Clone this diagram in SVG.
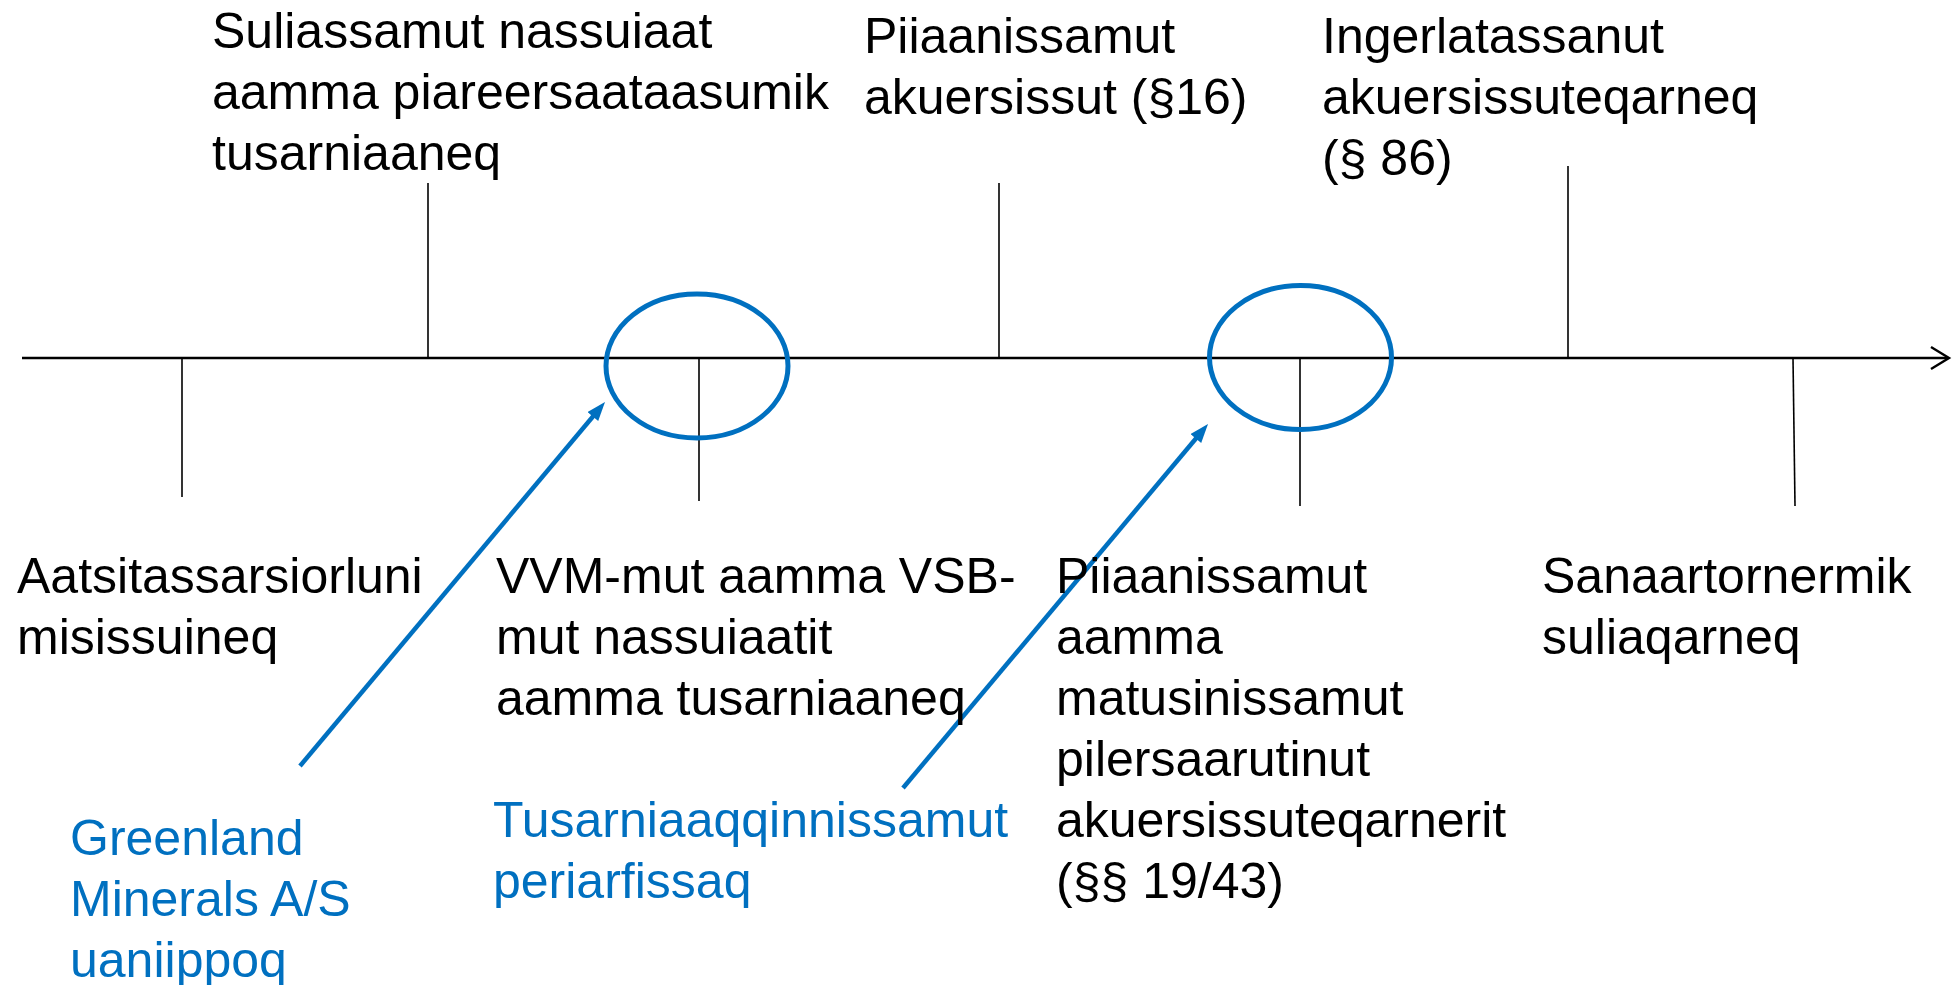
<svg xmlns="http://www.w3.org/2000/svg" width="1955" height="985" viewBox="0 0 1955 985">
<style>
text{font-family:"Liberation Sans",Arial,sans-serif;font-size:50px;fill:#000}
.blue{fill:#0070C0}
.tick{stroke:#000;stroke-width:1.6;fill:none}
.axis{stroke:#000;stroke-width:2.4;fill:none}
.ring{stroke:#0070C0;stroke-width:5;fill:none}
.ptr{stroke:#0070C0;stroke-width:4.5;fill:none}
</style>
<defs>
<marker id="ah" markerUnits="userSpaceOnUse" markerWidth="22" markerHeight="16" refX="9" refY="7" orient="auto">
<path d="M0,0 L19,7 L0,14 z" fill="#0070C0"/>
</marker>
</defs>
<rect width="1955" height="985" fill="#fff"/>
<g id="connectors">
<line class="axis" x1="22" y1="358" x2="1948" y2="358"/>
<polyline class="axis" points="1931,347 1949,358 1931,369"/>
<line class="tick" x1="428" y1="183" x2="428" y2="358"/>
<line class="tick" x1="999" y1="183" x2="999" y2="358"/>
<line class="tick" x1="1568" y1="166" x2="1568" y2="358"/>
<line class="tick" x1="182" y1="358" x2="182" y2="497"/>
<line class="tick" x1="699" y1="358" x2="699" y2="501"/>
<line class="tick" x1="1300" y1="358" x2="1300" y2="506"/>
<line class="tick" x1="1793" y1="358" x2="1795" y2="506"/>
<line class="ptr" x1="300" y1="766" x2="598.6" y2="409.7" marker-end="url(#ah)"/>
<line class="ptr" x1="903" y1="788" x2="1201.6" y2="431.7" marker-end="url(#ah)"/>
</g>
<g id="ring1"><ellipse class="ring" cx="697" cy="366" rx="91" ry="72"/></g>
<g id="ring2"><ellipse class="ring" cx="1300.5" cy="357.5" rx="91" ry="72"/></g>
<g id="n-suliassamut">
<text x="212" y="48">Suliassamut nassuiaat</text>
<text x="212" y="109">aamma piareersaataasumik</text>
<text x="212" y="170">tusarniaaneq</text>
</g>
<g id="n-piiaanissamut-top">
<text x="864" y="53">Piiaanissamut</text>
<text x="864" y="114">akuersissut (§16)</text>
</g>
<g id="n-ingerlatassanut">
<text x="1322" y="53">Ingerlatassanut</text>
<text x="1322" y="114">akuersissuteqarneq</text>
<text x="1322" y="175">(§ 86)</text>
</g>
<g id="n-aatsitassarsiorluni">
<text x="17" y="593">Aatsitassarsiorluni</text>
<text x="17" y="654">misissuineq</text>
</g>
<g id="n-vvm">
<text x="496" y="593">VVM-mut aamma VSB-</text>
<text x="496" y="654">mut nassuiaatit</text>
<text x="496" y="715">aamma tusarniaaneq</text>
</g>
<g id="n-piiaanissamut-bottom">
<text x="1056" y="593">Piiaanissamut</text>
<text x="1056" y="654">aamma</text>
<text x="1056" y="715">matusinissamut</text>
<text x="1056" y="776">pilersaarutinut</text>
<text x="1056" y="837">akuersissuteqarnerit</text>
<text x="1056" y="898">(§§ 19/43)</text>
</g>
<g id="n-sanaartornermik">
<text x="1542" y="593">Sanaartornermik</text>
<text x="1542" y="654">suliaqarneq</text>
</g>
<g id="n-greenland">
<text class="blue" x="70" y="855">Greenland</text>
<text class="blue" x="70" y="916">Minerals A/S</text>
<text class="blue" x="70" y="977">uaniippoq</text>
</g>
<g id="n-tusarniaaqqinnissamut">
<text class="blue" x="493" y="837">Tusarniaaqqinnissamut</text>
<text class="blue" x="493" y="898">periarfissaq</text>
</g>
</svg>
